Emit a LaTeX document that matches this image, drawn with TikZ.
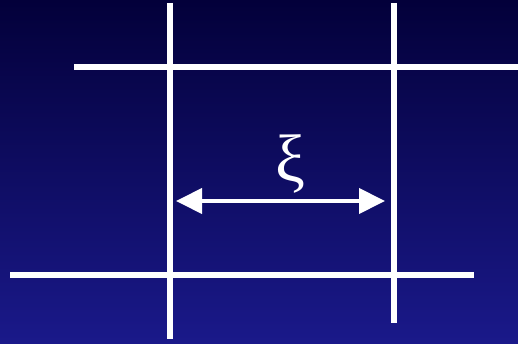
\documentclass[tikz,border=0pt]{standalone}
\usepackage{fontspec}
\newfontfamily\grkfont{Liberation Serif}
\usetikzlibrary{arrows.meta}
\definecolor{bgtop}{RGB}{3,0,58}
\definecolor{bgbot}{RGB}{26,25,138}
\begin{document}
\begin{tikzpicture}[x=1pt,y=-1pt,
  gridline/.style={white,line width=6pt},
  dimarrow/.style={white,line width=4pt,{Triangle[length=26pt,width=25pt]}-{Triangle[length=26pt,width=25pt]}}]
\shade[top color=bgtop,bottom color=bgbot] (0,0) rectangle (518,344);
\useasboundingbox (0,0) rectangle (518,344);
\coordinate (v1t) at (170,3);
\coordinate (v1b) at (170,339);
\coordinate (v2t) at (394,3);
\coordinate (v2b) at (394,323);
\coordinate (h1l) at (74,67);
\coordinate (h1r) at (518,67);
\coordinate (h2l) at (10,275);
\coordinate (h2r) at (474,275);
\coordinate (al) at (176,201);
\coordinate (ar) at (385,201);
\draw[gridline] (v1t) -- (v1b);
\draw[gridline] (v2t) -- (v2b);
\draw[gridline] (h1l) -- (h1r);
\draw[gridline] (h2l) -- (h2r);
\draw[dimarrow] (al) -- (ar);
\node[white,inner sep=0pt,font=\grkfont\fontsize{67}{67}\selectfont] (xi) at (290,164) {ξ};
\end{tikzpicture}
\end{document}
